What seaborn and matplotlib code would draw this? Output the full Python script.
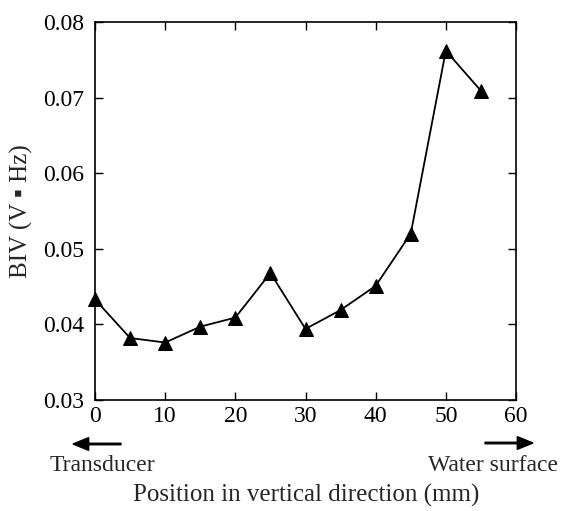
import pandas as pd
import matplotlib.pyplot as plt
import matplotlib.patches as mpatches
import seaborn as sns

# data
position_mm = [0, 5, 10, 15, 20, 25, 30, 35, 40, 45, 50, 55]
biv = [0.0433, 0.0382, 0.0376, 0.0397, 0.0409, 0.0468,
       0.0394, 0.0419, 0.0451, 0.0520, 0.0762, 0.0709]
x_ticks = [0, 10, 20, 30, 40, 50, 60]
y_ticks = [0.03, 0.04, 0.05, 0.06, 0.07, 0.08]

df = pd.DataFrame({'position': position_mm, 'biv': biv})

sns.set_theme(style="ticks")
plt.rcParams['font.family'] = ['Liberation Serif', 'DejaVu Serif']
plt.rc('font', size=17)
plt.rc('xtick', labelsize=17, direction='in', top=True)
plt.rc('ytick', labelsize=17, direction='in', right=True)

fig = plt.figure(figsize=(5.61, 5.11), dpi=100)
ax = fig.add_axes([95 / 561, 1 - 400 / 511, 421 / 561, 378 / 511])

sns.lineplot(data=df, x='position', y='biv', ax=ax, color='black',
             marker='^', markersize=10, markeredgecolor='black', linewidth=1.3,
             clip_on=False, zorder=3)

ax.set_xlim(0, 60)
ax.set_ylim(0.03, 0.08)
ax.set_xticks(x_ticks)
ax.set_yticks(y_ticks)
ax.set_yticklabels([f'{v:.2f}' for v in y_ticks])
ax.tick_params(length=5.5, width=1, colors='black')
ax.tick_params(axis='x', pad=4)
ax.tick_params(axis='y', pad=8)
for s in ax.spines.values():
    s.set_linewidth(1.2)
    s.set_color('black')

ax.set_xlabel('')
ax.set_ylabel('')
fig.text(21 / 561, 1 - 211 / 511, 'BIV (V \u25aa Hz)', rotation=90,
         ha='center', va='center', fontsize=18)
fig.text(306 / 561, 1 - 495 / 511, 'Position in vertical direction (mm)',
         ha='center', va='center', fontsize=18)

# direction arrows under the x axis
fig.text(50 / 561, 1 - 465 / 511, 'Transducer', ha='left', va='center', fontsize=17)
fig.text(558 / 561, 1 - 465 / 511, 'Water surface', ha='right', va='center', fontsize=17)
fig.patches.append(mpatches.FancyArrow(
    121 / 561, 1 - 444 / 511, -48 / 561, 0, width=0.003, head_width=0.025,
    head_length=0.028, length_includes_head=True, color='black',
    transform=fig.transFigure, figure=fig))
fig.patches.append(mpatches.FancyArrow(
    485 / 561, 1 - 443 / 511, 48 / 561, 0, width=0.003, head_width=0.025,
    head_length=0.028, length_includes_head=True, color='black',
    transform=fig.transFigure, figure=fig))

fig.savefig('out.png', dpi=100)
